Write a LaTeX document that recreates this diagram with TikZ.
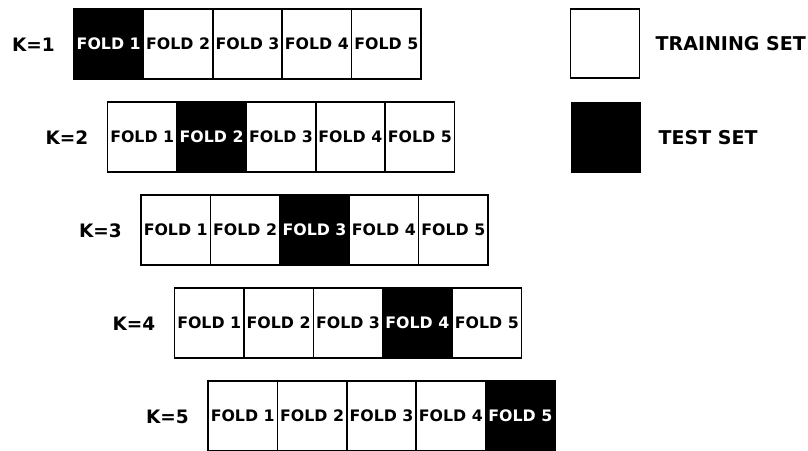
\documentclass[tikz,border=0pt]{standalone}
\usepackage{fontspec}
\setmainfont{DejaVu Sans}
\usetikzlibrary{positioning}

\begin{document}
\begin{tikzpicture}[x=1pt,y=-1pt,
  fold/.style={draw,line width=1.6pt,fill=white,minimum width=69.4pt,minimum height=70pt,
    inner sep=0pt,outer sep=0pt,font=\fontsize{15.8}{18}\selectfont\bfseries},
  testfold/.style={fold,fill=black,text=white},
  klabel/.style={font=\fontsize{18.5}{22}\selectfont\bfseries},
  legbox/.style={draw,line width=1.6pt,minimum size=69pt,inner sep=0pt,outer sep=0pt},
  legtext/.style={font=\fontsize{19}{22}\selectfont\bfseries,inner sep=0pt}]
  \useasboundingbox (0,0) rectangle (808,450);
  % one row of five folds per round, each row shifted right and down
  \foreach \k in {1,...,5} {
    \node[klabel] (k\k) at ({33.5+33.5*(\k-1)},{45+93*(\k-1)}) {K=\k};
    \foreach \f in {1,...,5} {
      \ifnum\f=\k \def\sty{testfold}\else\def\sty{fold}\fi
      \node[\sty,anchor=north west] (f\k\f) at ({74+33.5*(\k-1)+69.4*(\f-1)},{9+93*(\k-1)}) {FOLD \f};
    }
  }
  % legend
  \node[legbox,fill=white] (train) at (605,43.5) {};
  \node[legtext,right=16pt of train] (traintxt) {TRAINING SET};
  \node[legbox,fill=black] (test) at (606,137.5) {};
  \node[legtext,right=18pt of test] (testtxt) {TEST SET};
\end{tikzpicture}
\end{document}
